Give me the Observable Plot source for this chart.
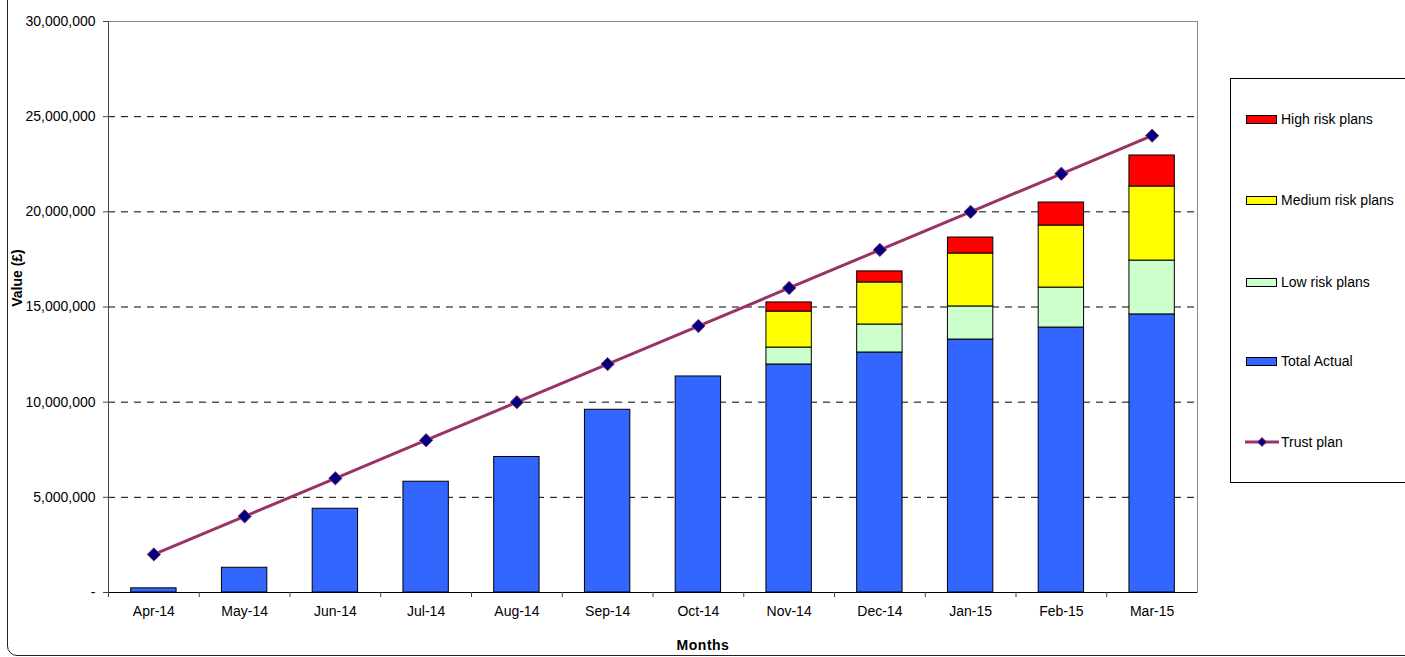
<!DOCTYPE html>
<html><head><meta charset="utf-8">
<script src="https://cdn.jsdelivr.net/npm/d3@7"></script>
<script src="https://cdn.jsdelivr.net/npm/@observablehq/plot@0.6"></script>
<style>
body{margin:0;background:#fff;font-family:"Liberation Sans",Arial,sans-serif;}
#wrap{position:relative;width:1405px;height:657px;overflow:hidden;background:#fff;}
#frame{position:absolute;left:7px;top:-20px;width:1500px;height:674px;border:1.5px solid #222;border-radius:10px;}
#chart{position:absolute;left:0;top:0;}
#legend{position:absolute;left:1230px;top:78px;width:220px;height:403px;border:1px solid #000;background:#fff;}
.item{position:absolute;left:15px;font-size:14px;color:#000;height:16px;line-height:16px;}
.sw{position:absolute;left:0;top:4px;width:29px;height:7px;border:1px solid #000;}
.lbl{position:absolute;left:35px;top:0;white-space:nowrap;}
#ytitle{position:absolute;left:17px;top:278px;transform:translate(-50%,-50%) rotate(-90deg);font-weight:bold;font-size:14px;line-height:14px;white-space:nowrap;}
#xtitle{position:absolute;left:703px;top:638px;transform:translateX(-50%);font-weight:bold;font-size:14px;line-height:14px;letter-spacing:0.5px;white-space:nowrap;}
</style>
</head><body>
<div id="wrap">
<div id="frame"></div>
<div id="chart"></div>
<div id="ytitle">Value (£)</div>
<div id="xtitle">Months</div>
<div id="legend"></div>
</div>
<script>
const months = ["Apr-14","May-14","Jun-14","Jul-14","Aug-14","Sep-14","Oct-14","Nov-14","Dec-14","Jan-15","Feb-15","Mar-15"];
const totalActual = [220000, 1300000, 4400000, 5820000, 7120000, 9600000, 11350000, 11980000, 12610000, 13290000, 13920000, 14610000];
const lowRisk    = [0, 0, 0, 0, 0, 0, 0, 890000, 1470000, 1740000, 2100000, 2830000];
const mediumRisk = [0, 0, 0, 0, 0, 0, 0, 1890000, 2210000, 2780000, 3260000, 3890000];
const highRisk   = [0, 0, 0, 0, 0, 0, 0, 480000, 580000, 840000, 1210000, 1630000];
const trustPlan  = [2000000, 4000000, 6000000, 8000000, 10000000, 12000000, 14000000, 16000000, 18000000, 20000000, 22000000, 24000000];
const seriesNames = ["Total Actual", "Low risk plans", "Medium risk plans", "High risk plans"];
const seriesColors = ["#3366FF", "#CCFFCC", "#FFFF00", "#FF0000"];
const yTicks = [0, 5000000, 10000000, 15000000, 20000000, 25000000, 30000000];

const seriesValues = [totalActual, lowRisk, mediumRisk, highRisk];
const stacked = [];
months.forEach((m, i) => {
  seriesNames.forEach((s, k) => {
    const v = seriesValues[k][i];
    if (v > 0) stacked.push({month: m, series: s, value: v});
  });
});
const plan = months.map((m, i) => ({month: m, plan: trustPlan[i]}));

const fmt = d3.format(",");
const chart = Plot.plot({
  width: 1405, height: 657,
  marginLeft: 108, marginRight: 208, marginTop: 21, marginBottom: 65,
  style: {fontFamily: "'Liberation Sans', Arial, sans-serif", fontSize: "14px", color: "#000", background: "transparent"},
  x: {domain: months, paddingInner: 0.5, paddingOuter: 0.25, round: false, label: null},
  y: {domain: [0, 30000000], label: null},
  color: {domain: seriesNames, range: seriesColors},
  marks: [
    Plot.gridY(yTicks, {stroke: "#000", strokeOpacity: 1, strokeDasharray: "7,6"}),
    Plot.frame({stroke: "#888"}),
    Plot.frame({anchor: "left", stroke: "#444"}),
    Plot.barY(stacked, {x: "month", y: "value", fill: "series", stroke: "#000", strokeWidth: 1}),
    Plot.line(plan, {x: "month", y: "plan", stroke: "#993366", strokeWidth: 3}),
    Plot.dot(plan, {x: "month", y: "plan", symbol: "diamond2", r: 6, fill: "#000080", stroke: "#993366", strokeWidth: 1}),
    Plot.ruleY([0], {stroke: "#000"}),
    Plot.axisY(yTicks, {tickSize: 5, tickPadding: 8, tickFormat: d => d === 0 ? "-" : fmt(d), stroke: "#444", fontSize: 14}),
    Plot.axisX({tickSize: 5, text: null, dx: -45.375, stroke: "#444"}),
    Plot.axisX({tickSize: 0, tickPadding: 14, fontSize: 14})
  ]
});
document.getElementById("chart").appendChild(chart);

const legendItems = [
  {name: "High risk plans", color: "#FF0000", y: 118},
  {name: "Medium risk plans", color: "#FFFF00", y: 199},
  {name: "Low risk plans", color: "#CCFFCC", y: 281},
  {name: "Total Actual", color: "#3366FF", y: 360},
  {name: "Trust plan", color: null, y: 441}
];
const leg = document.getElementById("legend");
legendItems.forEach(it => {
  const d = document.createElement("div");
  d.className = "item";
  d.style.top = (it.y - 78 - 8) + "px";
  if (it.color) {
    d.innerHTML = `<div class="sw" style="background:${it.color}"></div><div class="lbl">${it.name}</div>`;
  } else {
    d.innerHTML = `<svg width="34" height="16" style="position:absolute;left:-1px;top:0"><line x1="0" y1="8" x2="34" y2="8" stroke="#993366" stroke-width="3"/><path d="M17,3.5L21.5,8L17,12.5L12.5,8Z" fill="#000080" stroke="#993366" stroke-width="1"/></svg><div class="lbl">${it.name}</div>`;
  }
  leg.appendChild(d);
});
</script>
</body></html>
